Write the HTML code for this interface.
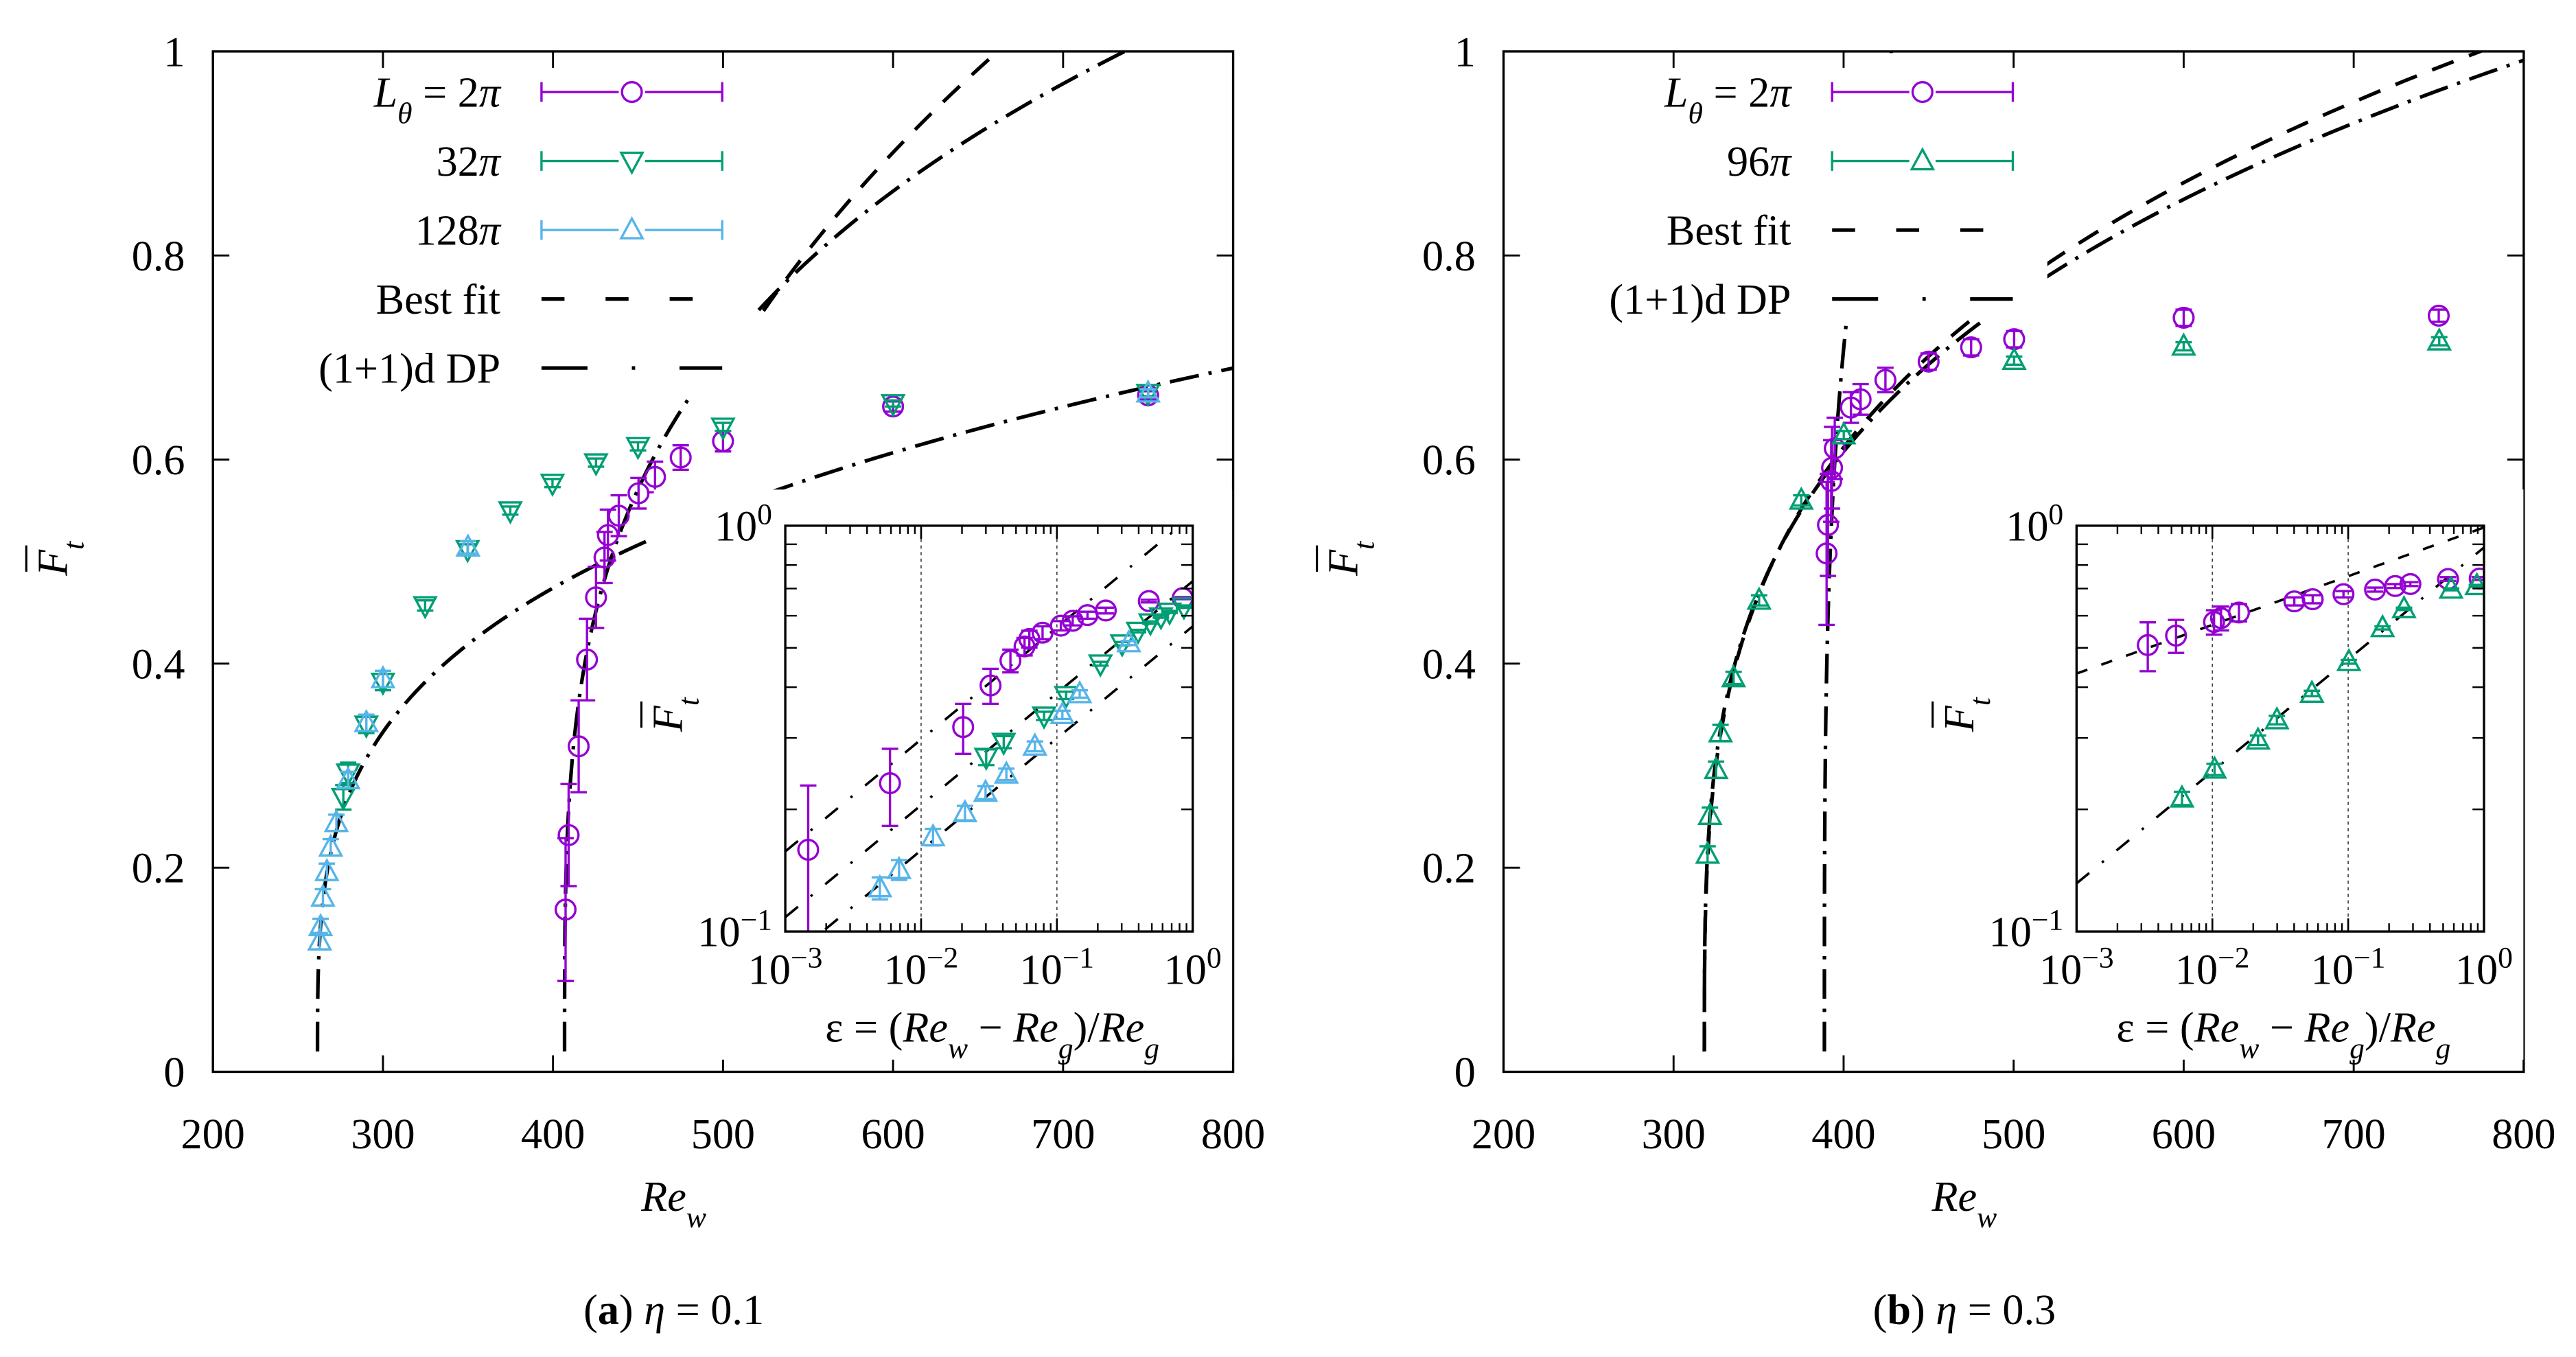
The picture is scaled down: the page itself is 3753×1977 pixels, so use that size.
<!DOCTYPE html>
<html><head><meta charset="utf-8"><style>
html,body{margin:0;padding:0;background:#fff}
svg{display:block}
text{font-family:"Liberation Serif",serif;fill:#000}
</style></head><body>
<svg id="fig" xmlns="http://www.w3.org/2000/svg" width="3753" height="1977" viewBox="0 0 1568 826">
<rect x="0" y="0" width="1568" height="826" fill="#fff"/>
<g id="root"></g>
</svg>
<script>
// ---------- data: panel (a) eta=0.1 ----------
const a_re_2pi   = [407.4,409.2,415.1,420.0,425.3,430.3,432.3,438.7,450.3,460.0,475.1,500,600,750];
const a_F_2pi    = [0.159,0.232,0.319,0.404,0.465,0.504,0.526,0.545,0.567,0.583,0.602,0.618,0.652,0.663];
const a_E_2pi    = [0.07,0.05,0.045,0.04,0.03,0.025,0.025,0.02,0.015,0.015,0.012,0.01,0.005,0.004];
const a_re_32pi  = [276.7,279.5,290.2,300,324.8,349.8,374.9,399.7,425.3,450,500,600,750];
const a_F_32pi   = [0.269,0.293,0.340,0.382,0.457,0.512,0.550,0.577,0.597,0.613,0.632,0.655,0.665];
const a_E_32pi   = [0.012,0.01,0.008,0.008,0.005,0.005,0.004,0.004,0.004,0.004,0.004,0.003,0.003];
const a_re_128pi = [262.8,263.3,264.7,267.0,269.3,272.6,279.5,290.2,300,350,750];
const a_F_128pi  = [0.128,0.142,0.171,0.196,0.220,0.244,0.286,0.342,0.385,0.514,0.665];
const a_E_128pi  = [0.008,0.008,0.008,0.008,0.008,0.008,0.008,0.008,0.008,0.006,0.004];
const a_Reg      = [406.8, 268.6, 261.5];           // 2pi, 32pi, 128pi
const a_dpA      = [1.06, 0.73, 0.565];             // DP amplitudes
const a_fitParams= [406.8, 1.193, 0.377, 0.25];     // best fit (2pi): Reg, A, beta, eps start
const betaDP     = 0.276;
// ---------- data: panel (b) eta=0.3 ----------
const b_re_2pi   = [390.0,390.8,392.7,393.2,394.8,404.3,410.0,424.6,450,475,500.3,600,750];
const b_F_2pi    = [0.508,0.536,0.579,0.592,0.611,0.651,0.659,0.678,0.696,0.710,0.718,0.739,0.741];
const b_E_2pi    = [0.07,0.05,0.04,0.04,0.03,0.015,0.015,0.012,0.008,0.008,0.008,0.008,0.006];
const b_re_96pi  = [320.0,321.4,325.0,327.6,335.3,350.3,375.1,400.1,500.3,600,750.3];
const b_F_96pi   = [0.213,0.251,0.296,0.332,0.386,0.462,0.560,0.624,0.697,0.711,0.716];
const b_E_96pi   = [0.008,0.008,0.008,0.008,0.006,0.005,0.005,0.004,0.004,0.004,0.004];
const b_Reg      = [388.7, 318.1];                  // 2pi, 96pi
const b_dpA      = [1.88, 0.884];
const b_fit96    = [318.1, 0.902, 0.286];
const b_fit2inset= [0.99, 0.12];
const mainXTicks = [200,300,400,500,600,700,800];
const mainYTicks = [0,0.2,0.4,0.6,0.8,1];
const mainYLabels= ["0","0.2","0.4","0.6","0.8","1"];
const insetDecades = [-3,-2,-1,0];

const NS="http://www.w3.org/2000/svg";
const root=document.getElementById('root');
function mk(tag,attrs,parent){const e=document.createElementNS(NS,tag);for(const k in attrs)e.setAttribute(k,attrs[k]);(parent||root).appendChild(e);return e;}
const PURPLE="#9400D3",GREEN="#009E73",BLUE="#56B4E9";
const DASH_FIT="14 10",DASH_DP="18 6 2 6";
const LDASH_FIT="14 25",LDASH_DP="28 27 2 27";
const FS=26;

function marker(g,type,x,y,col){
  let e;
  if(type==='c'){e=mk('circle',{cx:x,cy:y,r:6,fill:'none',stroke:col,'stroke-width':1.4},g);}
  else if(type==='d'){e=mk('path',{d:`M${x-6.5},${y-5} L${x+6.5},${y-5} L${x},${y+7} Z`,fill:'none',stroke:col,'stroke-width':1.4},g);}
  else {e=mk('path',{d:`M${x-6.5},${y+5} L${x+6.5},${y+5} L${x},${y-7} Z`,fill:'none',stroke:col,'stroke-width':1.4},g);}
  
  
}
function errbar(g,x,y1,y2,col){
  const p=mk('path',{d:`M${x},${y1}V${y2}M${x-5},${y1}H${x+5}M${x-5},${y2}H${x+5}`,stroke:col,'stroke-width':1.4,fill:'none'},g);
  
  
}
function mathLabel(g,x,y,size,anchor,parts,extra){
  const t=mk('text',Object.assign({x:x,y:y,'font-size':size,'text-anchor':anchor,'xml:space':'preserve'},extra||{}),g);
  parts.forEach(p=>{const s=mk('tspan',{},t);s.textContent=p[0];if(p[1]&&p[1].includes('i'))s.setAttribute('font-style','italic');if(p[1]&&p[1].includes('b'))s.setAttribute('font-weight','bold');if(p[1]&&p[1].includes('s')){s.setAttribute('baseline-shift','sub');s.setAttribute('font-size',size*0.7);}if(p[1]&&p[1].includes('u')){s.setAttribute('baseline-shift','super');s.setAttribute('font-size',size*0.7);}});
  return t;
}

function panel(P){
  const g=mk('g',{});  
  const X0=P.x0,X1=P.x0+621,Y0=652.4,Y1=31.3;
  const xs=re=>X0+(re-200)/600*(X1-X0), ys=F=>Y0-F*(Y0-Y1);
  const cid='clip'+P.id;
  const cp=mk('clipPath',{id:cid},g); mk('rect',{x:X0,y:Y1,width:X1-X0,height:Y0-Y1},cp);
  const curves=mk('g',{'clip-path':`url(#${cid})`},g);
   
  P.curves.forEach(c=>{
    const e0=c.e0||0;
    let d=e0>0?'':'M'+xs(c.Reg)+','+ys(0.02);
    for(let k=0;k<=400;k++){const eps=Math.pow(10,-6+k*(6.4/400));if(eps<e0)continue;const re=c.Reg*(1+eps);if(re>820)break;const F=c.A*Math.pow(eps,c.b);if(F<0.02)continue;d+=(d?' L':'M')+xs(re).toFixed(2)+','+ys(F).toFixed(2);}
    const p=mk('path',{d:d,fill:'none',stroke:'#000','stroke-width':2.2,'stroke-dasharray':c.dash},curves);
     
  });
  P.series.forEach(s=>{
    const sg=mk('g',{},g);  
    s.re.forEach((re,i)=>{const x=xs(re),y=ys(s.F[i]);errbar(sg,x,ys(s.F[i]+s.E[i]),ys(s.F[i]-s.E[i]),s.col);marker(sg,s.m,x,y,s.col);});
  });
  const lb=mk('rect',{x:X0+1,y:Y1+1,width:P.legW,height:P.legH,fill:'#fff'},g);
   
  const lx1=X0+200,lx2=X0+310,tx=X0+175;
  P.legend.forEach((L,i)=>{
    const y=56+42*i; const lg=mk('g',{},g);  
    mathLabel(lg,tx,y+9,FS,'end',L.parts);
    if(L.col){mk('path',{d:`M${lx1},${y}H${lx2}M${lx1},${y-6}V${y+6}M${lx2},${y-6}V${y+6}`,stroke:L.col,'stroke-width':1.4,fill:'none'},lg);
      mk('rect',{x:(lx1+lx2)/2-8,y:y-8,width:16,height:16,fill:'#fff'},lg);marker(lg,L.m,(lx1+lx2)/2,y,L.col);}
    else mk('path',{d:`M${lx1},${y}H${lx2}`,stroke:'#000','stroke-width':2.2,'stroke-dasharray':L.dash},lg);
  });
  const fr=mk('rect',{x:X0,y:Y1,width:X1-X0,height:Y0-Y1,fill:'none',stroke:'#000','stroke-width':1.4},g);
   
  mainXTicks.forEach(v=>{const x=xs(v);mk('path',{d:`M${x},${Y0}v-10M${x},${Y1}v10`,stroke:'#000','stroke-width':1.2},g);
    const t=mk('text',{x:x,y:699,'font-size':FS,'text-anchor':'middle'},g);t.textContent=v;});
  mainYTicks.forEach((v,i)=>{const y=ys(v);mk('path',{d:`M${X0},${y}h10M${X1},${y}h-10`,stroke:'#000','stroke-width':1.2},g);
    const t=mk('text',{x:X0-17,y:y+9,'font-size':FS,'text-anchor':'end'},g);t.textContent=mainYLabels[i];});
  const xl=mathLabel(g,(X0+X1)/2-30,737,FS,'middle',[['Re','i'],['w','is']]);  
  ylab(g,X0-98,340,FS,'y-axis-title');
  const cap=mathLabel(g,(X0+X1)/2-30,806,FS,'middle',[['(','' ],[P.tag,'b'],[') ',''],['η','i'],[' = '+P.eta,'']]);
   
  inset(g,P);
}
function ylab(g,cx,cy,size,name){
  const yg=mk('g',{transform:`translate(${cx},${cy}) rotate(-90)`},g);
   
  mathLabel(yg,0,size*0.35,size,'middle',[['F','i'],['t','is']]);
  mk('line',{x1:-8,x2:8,y1:-size*0.6,y2:-size*0.6,stroke:'#000','stroke-width':1.3},yg);
}
function inset(g,P){
  const I=P.inset; const ix0=I.x0,ix1=I.x0+248,iy0=320,iy1=567;
  const ex=e=>ix0+(Math.log10(e)+3)/3*(ix1-ix0), fy=F=>iy1-(Math.log10(F)+1)*(iy1-iy0);
  const ig=mk('g',{},g);  
  mk('rect',{x:ix0-80,y:iy0-22,width:ix1-ix0+104,height:iy1-iy0+100,fill:'#fff'},ig);
  const cid='iclip'+P.id; const cp=mk('clipPath',{id:cid},ig); mk('rect',{x:ix0,y:iy0,width:ix1-ix0,height:iy1-iy0},cp);
  const cg=mk('g',{'clip-path':`url(#${cid})`},ig);
  [-2,-1].forEach(d=>{const x=ex(Math.pow(10,d));const l=mk('line',{x1:x,x2:x,y1:iy0,y2:iy1,stroke:'#444','stroke-width':0.7,'stroke-dasharray':'2 2'},cg);});
  I.lines.forEach(L=>{let d='';for(let k=0;k<=60;k++){const e=Math.pow(10,-3+k*3/60);d+=(k?' L':'M')+ex(e).toFixed(2)+','+fy(L.A*Math.pow(e,L.b)).toFixed(2);}
    const p=mk('path',{d:d,fill:'none',stroke:'#000','stroke-width':1.5,'stroke-dasharray':L.dash},cg);});
  P.series.forEach((s,si)=>{
    const sg=mk('g',{},cg);  
    s.re.forEach((re,i)=>{const e=(re-s.Reg)/s.Reg; if(e<=0||e>1.05)return; const x=ex(e),y=fy(s.F[i]);
      const lo=Math.max(s.F[i]-s.E[i],0.05);errbar(sg,x,fy(s.F[i]+s.E[i]),fy(lo),s.col);marker(sg,s.m,x,y,s.col);});
  });
  mk('rect',{x:ix0,y:iy0,width:ix1-ix0,height:iy1-iy0,fill:'none',stroke:'#000','stroke-width':1.4},ig);
  insetDecades.forEach((d,di)=>{
    const x=ex(Math.pow(10,d));mk('path',{d:`M${x},${iy1}v-8M${x},${iy0}v8`,stroke:'#000','stroke-width':1.1},ig);
    if(di<3)for(let m=2;m<=9;m++){const xm=ex(m*Math.pow(10,d));mk('path',{d:`M${xm},${iy1}v-5M${xm},${iy0}v5`,stroke:'#000','stroke-width':1},ig);}
    const t=mathLabel(ig,x,599,FS,'middle',[['10',''],[String(d).replace('-','−'),'u']]);
  });
  for(let m=2;m<=9;m++){const y=fy(m/10);mk('path',{d:`M${ix0},${y}h7M${ix1},${y}h-7`,stroke:'#000','stroke-width':1},ig);}
  let t=mathLabel(ig,ix0-8,iy0+9,FS,'end',[['10',''],['0','u']]);
  t=mathLabel(ig,ix0-8,iy1+9,FS,'end',[['10',''],['−1','u']]);
  ylab(ig,ix0-72,435,FS,'inset-y-axis-title');
  t=mathLabel(ig,(ix0+ix1)/2+2,634,FS,'middle',[['ε = (',''],['Re','i'],['w','is'],[' − ',''],['Re','i'],['g','is'],[')/',''],['Re','i'],['g','is']]);
  
}

panel({id:'a',name:'panel-a',x0:129.6,tag:'a',eta:'0.1',legW:330,legH:208,
  curves:[
    {name:'best-fit-2pi',Reg:a_fitParams[0],A:a_fitParams[1],b:a_fitParams[2],e0:a_fitParams[3],dash:DASH_FIT},
    {name:'dp-2pi',Reg:a_Reg[0],A:a_dpA[0],b:betaDP,dash:DASH_DP},
    {name:'dp-128pi',Reg:a_Reg[2],A:a_dpA[2],b:betaDP,dash:DASH_DP}],
  series:[
    {name:'series-2pi',re:a_re_2pi,F:a_F_2pi,E:a_E_2pi,col:PURPLE,m:'c',Reg:a_Reg[0]},
    {name:'series-32pi',re:a_re_32pi,F:a_F_32pi,E:a_E_32pi,col:GREEN,m:'d',Reg:a_Reg[1]},
    {name:'series-128pi',re:a_re_128pi,F:a_F_128pi,E:a_E_128pi,col:BLUE,m:'u',Reg:a_Reg[2]}],
  legend:[
    {parts:[['L','i'],['θ','is'],[' = 2',''],['π','i']],col:PURPLE,m:'c'},
    {parts:[['32',''],['π','i']],col:GREEN,m:'d'},
    {parts:[['128',''],['π','i']],col:BLUE,m:'u'},
    {parts:[['Best fit','']],dash:LDASH_FIT},
    {parts:[['(1+1)d DP','']],dash:LDASH_DP}],
  inset:{x0:478,lines:[
    {name:'inset-dp-2pi',A:a_dpA[0],b:betaDP,dash:'10 10 1.5 10'},
    {name:'inset-dp-32pi',A:a_dpA[1],b:betaDP,dash:'10 10 1.5 10'},
    {name:'inset-dp-128pi',A:a_dpA[2],b:betaDP,dash:'10 10 1.5 10'}]}
});
panel({id:'b',name:'panel-b',x0:915.2,tag:'b',eta:'0.3',legW:330,legH:162,
  curves:[
    {name:'dp-2pi',Reg:b_Reg[0],A:b_dpA[0],b:betaDP,dash:DASH_DP},
    {name:'dp-96pi',Reg:b_Reg[1],A:b_dpA[1],b:betaDP,dash:DASH_DP},
    {name:'best-fit-96pi',Reg:b_fit96[0],A:b_fit96[1],b:b_fit96[2],dash:DASH_FIT}],
  series:[
    {name:'series-2pi',re:b_re_2pi,F:b_F_2pi,E:b_E_2pi,col:PURPLE,m:'c',Reg:b_Reg[0]},
    {name:'series-96pi',re:b_re_96pi,F:b_F_96pi,E:b_E_96pi,col:GREEN,m:'u',Reg:b_Reg[1]}],
  legend:[
    {parts:[['L','i'],['θ','is'],[' =   2',''],['π','i']],col:PURPLE,m:'c'},
    {parts:[['96',''],['π','i']],col:GREEN,m:'u'},
    {parts:[['Best fit','']],dash:LDASH_FIT},
    {parts:[['(1+1)d DP','']],dash:LDASH_DP}],
  inset:{x0:1264,lines:[
    {name:'inset-best-fit-2pi',A:b_fit2inset[0],b:b_fit2inset[1],dash:'7 9'},
    {name:'inset-dp-96pi',A:b_dpA[1],b:betaDP,dash:'10 10 1.5 10'}]}
});
</script>
</body></html>
